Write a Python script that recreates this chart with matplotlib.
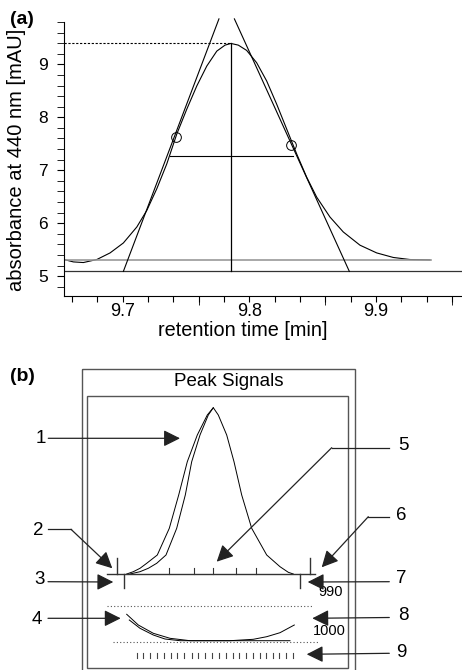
import numpy as np
import matplotlib
matplotlib.use('agg')
import matplotlib.pyplot as plt
from matplotlib.patches import Rectangle

plt.rcParams['font.family'] = ['Liberation Sans', 'DejaVu Sans']

# ---- panel (a): peak ----
peak_t = [9.6536, 9.661, 9.6689, 9.6795, 9.690, 9.7005, 9.7111, 9.719, 9.7269,
          9.7348, 9.7427, 9.7506, 9.7585, 9.7664, 9.7743, 9.7808, 9.7855,
          9.7913, 9.7979, 9.8058, 9.8137, 9.8216, 9.8295, 9.8374, 9.8453,
          9.8532, 9.8637, 9.8742, 9.8874, 9.9006, 9.9137, 9.9269, 9.9427]
peak_abs = [5.313, 5.268, 5.256, 5.313, 5.438, 5.626, 5.927, 6.24, 6.65,
            7.12, 7.684, 8.154, 8.592, 8.968, 9.25, 9.363, 9.395,
            9.363, 9.263, 9.03, 8.686, 8.248, 7.778, 7.308, 6.868,
            6.492, 6.116, 5.834, 5.584, 5.438, 5.352, 5.313, 5.306]
apex_t, apex_abs = 9.7855, 9.395
baseline_abs = 5.094
peak_base_abs = 5.306
peak_end_t = 9.9433
tangent_left_t = [9.7005, 9.776]
tangent_right_t = [9.879, 9.7882]
tangent_abs = [5.089, 9.859]
inflection_t = [9.7419, 9.8329]
inflection_abs = [7.633, 7.483]
halfwidth_t = [9.7374, 9.8345]
halfwidth_abs = 7.276

x_ticks = [9.66, 9.68, 9.70, 9.72, 9.74, 9.76, 9.78, 9.80, 9.82, 9.84,
           9.86, 9.88, 9.90, 9.92, 9.94, 9.96]
x_long_ticks = [9.76, 9.86, 9.96]
x_tick_labels = {9.70: '9.7', 9.80: '9.8', 9.90: '9.9'}
y_ticks = [5, 6, 7, 8, 9]

# ---- panel (b): "Peak Signals" sketch (sketch units) ----
sig_a_x = [126.7, 133.3, 140, 146.7, 157.3, 169.3, 178.7, 187.3, 197.3, 207.3,
           213.3, 218.3, 226.7, 234, 241.7, 251.7, 266.7, 280, 288.3, 293.3]
sig_a_y = [574, 571.7, 568.3, 563.3, 555, 528.3, 495, 461.7, 435, 415,
           407.7, 415, 435, 461.7, 495, 528.3, 555, 566.7, 572.3, 574]
sig_b_x = [130, 140, 148.3, 156.7, 166, 176.7, 185.3, 191.7, 200, 208.3, 213.3]
sig_b_y = [574, 571.7, 568.3, 563.3, 555, 528.3, 495, 461.7, 435, 415, 407.7]
deriv_a_x = [126.7, 138.3, 153.3, 170, 190, 290]
deriv_a_y = [614.3, 625, 633.3, 638.3, 640.7, 640.7]
deriv_b_x = [129.3, 140, 153.3, 165, 180, 230, 253.3, 266.7, 280, 294.3]
deriv_b_y = [620, 628.3, 635, 639, 640.7, 640.7, 639.3, 636.7, 632.7, 625]
base_x = [107, 315]
base_y = 574
start_end_x = [116.7, 310]
limit_x = [124, 300]
small_tick_x = [169.3, 194, 213.3, 236, 255.7]
thresh_y = [605.7, 642.3]
thresh_x = [(107.3, 312.3), (112.7, 318.3)]
scan_x = [136.7, 143.3, 150, 157.3, 164, 170.7, 177.3, 184, 191.7, 198.3, 205,
          212.3, 219.3, 226, 232.7, 239.3, 246, 252.7, 260, 266, 272.7, 279.3,
          286, 292.7]
labels = ['1', '2', '3', '4', '5', '6', '7', '8', '9']
label_pos = [(41, 438.3), (38.3, 530.7), (39.3, 580), (36.7, 620),
             (403.3, 446), (401, 516), (401, 578.3), (403.3, 615), (401.7, 652.7)]
arrow_paths = [
    [(48.3, 438.3), (180, 438.3)],
    [(48, 529.3), (71, 529.3), (112.3, 568.3)],
    [(48, 581.7), (113.3, 582)],
    [(48, 618.3), (120.7, 618.3)],
    [(389.3, 447.7), (331.7, 447.7), (216.7, 561.7)],
    [(389.3, 516.7), (368.3, 516.7), (321.7, 567.3)],
    [(389.3, 581.7), (307.7, 582)],
    [(389.3, 617.5), (312.3, 618.3)],
    [(389.3, 653.3), (306.7, 654.3)],
]
count_text = [('990', 330.3, 592), ('1000', 329.5, 631)]

fig = plt.figure(figsize=(4.62, 6.70), dpi=100)

# Panel (a)
ax = fig.add_axes([64 / 462, (670 - 296) / 670, (462 - 64) / 462, 274 / 670])
ax.plot(peak_t, peak_abs, color='black', lw=0.8)
ax.axhline(baseline_abs, color='#333333', lw=0.9)
ax.plot([peak_t[0], peak_end_t], [peak_base_abs] * 2, color='#999999', lw=1.2)
ax.plot(tangent_left_t, tangent_abs, color='black', lw=0.8, clip_on=False)
ax.plot(tangent_right_t, tangent_abs, color='black', lw=0.8, clip_on=False)
ax.plot([apex_t, apex_t], [baseline_abs, apex_abs], color='black', lw=0.9)
ax.plot([peak_t[0], apex_t], [apex_abs, apex_abs], color='black', lw=0.8,
        linestyle=(0, (2, 1.5)))
ax.plot(halfwidth_t, [halfwidth_abs] * 2, color='black', lw=0.8)
ax.plot(inflection_t, inflection_abs, 'o', mfc='none', mec='black', ms=7, mew=0.7)

ax.set_xlim(9.6536, 9.968)
ax.set_ylim(4.624, 9.776)
for side in ['top', 'right']:
    ax.spines[side].set_visible(False)
ax.xaxis.remove_overlapping_locs = False
ax.set_xticks(x_ticks)
ax.set_xticklabels([x_tick_labels.get(round(t, 2), '') for t in x_ticks])
ax.set_xticks(x_long_ticks, minor=True)
ax.set_yticks(y_ticks)
ax.set_yticks(np.arange(4.8, 9.8, 0.2), minor=True)
ax.tick_params(axis='x', which='major', length=4.3, labelsize=13, pad=1)
ax.tick_params(axis='x', which='minor', length=6.5)
ax.tick_params(axis='y', which='both', length=4.8, labelsize=12.5, pad=7)
ax.set_xlabel('retention time [min]', fontsize=14.3)
ax.set_ylabel('absorbance at 440 nm [mAU]', fontsize=14.5)
ax.xaxis.set_label_coords(0.45, -0.09)
ax.yaxis.set_label_coords(-0.095, 0.496)
fig.text(10 / 462, 1 - 11 / 670, '(a)', fontsize=14, weight='bold', va='top')

# Panel (b)
bx = fig.add_axes([0, 0, 1, (670 - 340) / 670])
bx.set_xlim(0, 462)
bx.set_ylim(670, 340)
bx.axis('off')
bx.text(10, 368, '(b)', fontsize=14, weight='bold', va='top', ha='left')
bx.add_patch(Rectangle((81.7, 369), 355 - 81.7, 310, fill=False,
                       ec='#555555', lw=1.0, clip_on=False))
bx.add_patch(Rectangle((86.7, 396), 348.3 - 86.7, 667.7 - 396, fill=False,
                       ec='#555555', lw=1.0))
bx.text(229, 381, 'Peak Signals', fontsize=13.5, ha='center', va='center')

bx.plot(sig_a_x, sig_a_y, color='black', lw=0.7)
bx.plot(sig_b_x, sig_b_y, color='black', lw=0.7)
bx.plot(base_x, [base_y] * 2, color='#333333', lw=1.0)
for x in start_end_x:
    bx.plot([x, x], [base_y - 15.7, base_y], color='#333333', lw=1.0)
for x in limit_x:
    bx.plot([x, x], [base_y, base_y + 14], color='#333333', lw=1.0)
for x in small_tick_x:
    bx.plot([x, x], [base_y - 6, base_y], color='#333333', lw=0.8)
for y, (x0, x1) in zip(thresh_y, thresh_x):
    bx.plot([x0, x1], [y, y], color='#555555', lw=0.8, linestyle=(0, (1, 2)))
bx.plot(deriv_a_x, deriv_a_y, color='black', lw=0.7)
bx.plot(deriv_b_x, deriv_b_y, color='black', lw=0.7)
for x in scan_x:
    bx.plot([x, x], [653.3, 657.7], color='#444444', lw=0.8)
for txt, x, y in count_text:
    bx.text(x, y, txt, fontsize=10.5, ha='center', va='center')

for lab, (lx, ly) in zip(labels, label_pos):
    bx.text(lx, ly, lab, fontsize=13.5, ha='center', va='center')
for path in arrow_paths:
    xs = [p[0] for p in path]
    ys = [p[1] for p in path]
    bx.plot(xs[:-1], ys[:-1], color='#222222', lw=0.9)
    bx.annotate('', xy=path[-1], xytext=path[-2],
                arrowprops=dict(arrowstyle='-|>,head_length=1.0,head_width=0.5',
                                mutation_scale=10, color='#222222', lw=0.9,
                                shrinkA=0, shrinkB=0))

fig.savefig('out.png', dpi=100)
